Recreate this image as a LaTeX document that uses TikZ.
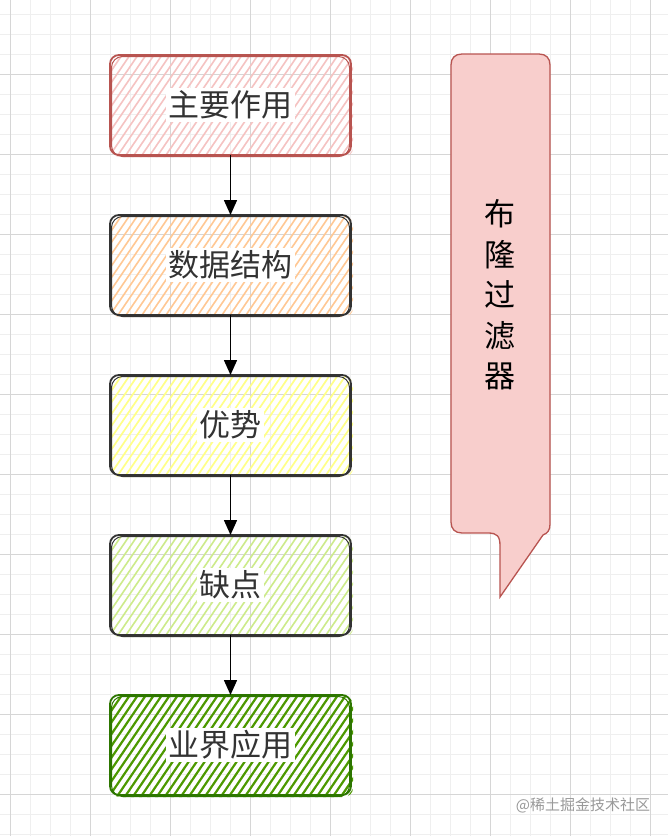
\documentclass[tikz,border=0pt]{standalone}
\usepackage{fontspec}
\newfontfamily\cjk{Noto Sans CJK SC}
\usetikzlibrary{arrows.meta}
\definecolor{minorc}{HTML}{EFEFEF}
\definecolor{majorc}{HTML}{D6D6D6}
\definecolor{redstroke}{HTML}{B85450}
\definecolor{redfill}{HTML}{F8CECC}
\definecolor{redhatch}{HTML}{F5C3C2}
\definecolor{orangefill}{HTML}{FFC894}
\definecolor{yellowfill}{HTML}{FFFF88}
\definecolor{lgreenfill}{HTML}{CDEB8B}
\definecolor{dgreenfill}{HTML}{4D9900}
\definecolor{dgreenstroke}{HTML}{2D7600}
\definecolor{inkc}{HTML}{333333}
\newcommand\sketchbox[6]{%
  \begin{scope}
    \clip[rounded corners=9] (111,#2-49) rectangle (353,#2+52);
    \foreach \s in {106,114,...,430} \draw[#4, line width=#6] (\s-70,#2+53) -- (\s,#2-50);
  \end{scope}
  \draw[#3, line width=1.8pt, rounded corners=9] (110,#2-50) rectangle (351,#2+50);
  \draw[#3, line width=1pt, rounded corners=11] (111.5,#2-48.5) rectangle (349.5,#2+51.5);
  \node[boxnode] (#1) at (230.5,#2) {};
  \node[boxtext] (#1t) at (230.5,#2) {#5};
}
\begin{document}
\begin{tikzpicture}[x=1pt,y=-1pt,
  minorgrid/.style={minorc, line width=0.8pt},
  majorgrid/.style={majorc, line width=0.9pt},
  boxnode/.style={minimum width=241pt, minimum height=100pt, inner sep=0pt, outer sep=0pt},
  boxtext/.style={fill=white, text=inkc, inner sep=2.5pt, font=\cjk\fontsize{31}{36}\selectfont},
  conn/.style={-{Triangle[length=15pt,width=13pt]}, line width=1.6pt, black},
  callout/.style={fill=redfill, draw=redstroke, line width=1.3pt, line join=miter},
  calltext/.style={align=center, text=black, font=\cjk\fontsize{31}{40.5}\selectfont},
  wmark/.style={text=gray!80, font=\cjk\fontsize{15}{18}\selectfont}
]
\useasboundingbox (0,0) rectangle (668,836);
\fill[white] (0,0) rectangle (668,836);
\foreach \x in {10,30,...,660} \draw[minorgrid] (\x,0) -- (\x,836);
\foreach \y in {14,34,...,834} \draw[minorgrid] (0,\y) -- (668,\y);
\foreach \x in {10,90,...,650} \draw[majorgrid] (\x,0) -- (\x,836);
\foreach \y in {74,154,...,794} \draw[majorgrid] (0,\y) -- (668,\y);

\sketchbox{b1}{105}{redstroke}{redhatch}{主要作用}{1.6pt}
\sketchbox{b2}{265}{inkc}{orangefill}{数据结构}{1.6pt}
\sketchbox{b3}{425}{inkc}{yellowfill}{优势}{1.7pt}
\sketchbox{b4}{585}{inkc}{lgreenfill}{缺点}{1.6pt}
\sketchbox{b5}{745}{dgreenstroke}{dgreenfill}{业界应用}{2.2pt}

\draw[conn] (b1.south) -- (b2.north);
\draw[conn] (b2.south) -- (b3.north);
\draw[conn] (b3.south) -- (b4.north);
\draw[conn] (b4.south) -- (b5.north);

\filldraw[callout] (500,597) -- (500,546) .. controls (500,536) and (497,533) .. (488,533)
  -- (462,533) .. controls (455,533) and (451,529) .. (451,522)
  -- (451,65) .. controls (451,58) and (455,54) .. (462,54)
  -- (539,54) .. controls (546,54) and (550,58) .. (550,65)
  -- (550,524) .. controls (550,530) and (548,533) .. (543,535)
  -- cycle;
\node[calltext] (ct) at (500,295) {布\\隆\\过\\滤\\器};

\node[wmark] (wm) at (583,805) {@稀土掘金技术社区};
\end{tikzpicture}
\end{document}
